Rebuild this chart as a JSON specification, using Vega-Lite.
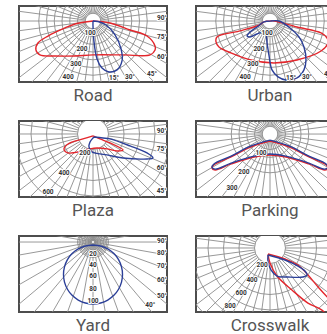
{
"$schema": "https://vega.github.io/schema/vega-lite/v6.json",
"padding": {"left": 18, "top": 5, "right": 0, "bottom": 0},
"config": {
  "view": {"stroke": "#4d4d4d", "strokeWidth": 2},
  "title": {"orient": "bottom", "fontSize": 17, "font": "Roboto", "fontWeight": "normal", "color": "#555555", "offset": 6}
},
"columns": 2,
"spacing": {"row": 15, "column": 27},
"datasets": {
  "rays75": [
    {"x":0,"y":2000,"x2":0,"y2":-2000},{"x":-261,"y":1983,"x2":261,"y2":-1983},{"x":-518,"y":1932,"x2":518,"y2":-1932},{"x":-765,"y":1848,"x2":765,"y2":-1848},
    {"x":-1000,"y":1732,"x2":1000,"y2":-1732},{"x":-1218,"y":1587,"x2":1218,"y2":-1587},{"x":-1414,"y":1414,"x2":1414,"y2":-1414},{"x":-1587,"y":1218,"x2":1587,"y2":-1218},
    {"x":-1732,"y":1000,"x2":1732,"y2":-1000},{"x":-1848,"y":765,"x2":1848,"y2":-765},{"x":-1932,"y":518,"x2":1932,"y2":-518},{"x":-1983,"y":261,"x2":1983,"y2":-261},
    {"x":-2000,"y":0,"x2":2000,"y2":0},{"x":-1983,"y":-261,"x2":1983,"y2":261},{"x":-1932,"y":-518,"x2":1932,"y2":518},{"x":-1848,"y":-765,"x2":1848,"y2":765},
    {"x":-1732,"y":-1000,"x2":1732,"y2":1000},{"x":-1587,"y":-1218,"x2":1587,"y2":1218},{"x":-1414,"y":-1414,"x2":1414,"y2":1414},{"x":-1218,"y":-1587,"x2":1218,"y2":1587},
    {"x":-1000,"y":-1732,"x2":1000,"y2":1732},{"x":-765,"y":-1848,"x2":765,"y2":1848},{"x":-518,"y":-1932,"x2":518,"y2":1932},{"x":-261,"y":-1983,"x2":261,"y2":1983}
  ],
  "rays10": [
    {"x":0,"y":2000,"x2":0,"y2":-2000},{"x":-347,"y":1970,"x2":347,"y2":-1970},{"x":-684,"y":1879,"x2":684,"y2":-1879},{"x":-1000,"y":1732,"x2":1000,"y2":-1732},
    {"x":-1286,"y":1532,"x2":1286,"y2":-1532},{"x":-1532,"y":1286,"x2":1532,"y2":-1286},{"x":-1732,"y":1000,"x2":1732,"y2":-1000},{"x":-1879,"y":684,"x2":1879,"y2":-684},
    {"x":-1970,"y":347,"x2":1970,"y2":-347},{"x":-2000,"y":0,"x2":2000,"y2":0},{"x":-1970,"y":-347,"x2":1970,"y2":347},{"x":-1879,"y":-684,"x2":1879,"y2":684},
    {"x":-1732,"y":-1000,"x2":1732,"y2":1000},{"x":-1532,"y":-1286,"x2":1532,"y2":1286},{"x":-1286,"y":-1532,"x2":1286,"y2":1532},{"x":-1000,"y":-1732,"x2":1000,"y2":1732},
    {"x":-684,"y":-1879,"x2":684,"y2":1879},{"x":-347,"y":-1970,"x2":347,"y2":1970}
  ],
  "rings_road": [{"x":0,"y":0,"r":200},{"x":0,"y":0,"r":300},{"x":0,"y":0,"r":400},{"x":0,"y":0,"r":500},{"x":0,"y":0,"r":600},{"x":0,"y":0,"r":700}],
  "rings_plaza": [{"x":0,"y":0,"r":400},{"x":0,"y":0,"r":600},{"x":0,"y":0,"r":800},{"x":0,"y":0,"r":1000}],
  "rings_parking": [{"x":0,"y":0,"r":200},{"x":0,"y":0,"r":300},{"x":0,"y":0,"r":400},{"x":0,"y":0,"r":500}],
  "rings_yard": [{"x":0,"y":0,"r":40},{"x":0,"y":0,"r":60},{"x":0,"y":0,"r":80},{"x":0,"y":0,"r":100},{"x":0,"y":0,"r":120},{"x":0,"y":0,"r":140},{"x":0,"y":0,"r":160},{"x":0,"y":0,"r":180},{"x":0,"y":0,"r":200}],
  "rings_cross": [{"x":0,"y":0,"r":400},{"x":0,"y":0,"r":600},{"x":0,"y":0,"r":800},{"x":0,"y":0,"r":1000},{"x":0,"y":0,"r":1200}],
  "lab_road": [{"t":"100","x":-19,"y":-77},{"t":"200","x":-71,"y":-181},{"t":"300","x":-110,"y":-277},{"t":"400","x":-161,"y":-361},
    {"t":"15°","x":135,"y":-368},{"t":"30°","x":239,"y":-361},{"t":"45°","x":381,"y":-342},{"t":"60°","x":445,"y":-232},{"t":"75°","x":445,"y":-103},{"t":"90°","x":445,"y":19}],
  "lab_urban": [{"t":"100","x":-19,"y":-77},{"t":"200","x":-71,"y":-181},{"t":"300","x":-110,"y":-277},{"t":"400","x":-161,"y":-361},
    {"t":"15°","x":135,"y":-368},{"t":"30°","x":239,"y":-361},{"t":"45°","x":381,"y":-342}],
  "lab_plaza": [{"t":"200","x":-62,"y":-146},{"t":"400","x":-223,"y":-300},{"t":"600","x":-346,"y":-446},
    {"t":"90°","x":528,"y":23},{"t":"75°","x":528,"y":-115},{"t":"60°","x":528,"y":-262},{"t":"45°","x":528,"y":-438}],
  "lab_parking": [{"t":"100","x":-40,"y":-84},{"t":"200","x":-116,"y":-169},{"t":"300","x":-169,"y":-240},{"t":"45°","x":276,"y":-253}],
  "lab_yard": [{"t":"20","x":0,"y":-20},{"t":"40","x":0,"y":-39},{"t":"60","x":0,"y":-58},{"t":"80","x":0,"y":-80},{"t":"100","x":0,"y":-100},
    {"t":"90°","x":117,"y":2},{"t":"80°","x":117,"y":-19},{"t":"70°","x":117,"y":-41},{"t":"60°","x":117,"y":-64},{"t":"50°","x":117,"y":-92},{"t":"40°","x":97,"y":-107}],
  "lab_cross": [{"t":"200","x":-91,"y":-194},{"t":"400","x":-206,"y":-366},{"t":"600","x":-331,"y":-514},{"t":"800","x":-457,"y":-663}]
},
"concat": [
{
  "width": 148, "height": 76, "title": {"text": "Road"},
  "encoding": {
    "x": {"field": "x", "type": "quantitative", "axis": null, "scale": {"domain": [-477, 477], "nice": false, "zero": false}},
    "y": {"field": "y", "type": "quantitative", "axis": null, "scale": {"domain": [-394, 97], "nice": false, "zero": false}}
  },
  "layer": [
    {"data": {"name": "rays75"}, "mark": {"type": "rule", "clip": true, "color": "#8c8c8c", "strokeWidth": 0.9}, "encoding": {"x2": {"field": "x2"}, "y2": {"field": "y2"}}},
    {"data": {"values": [{"x":0,"y":0,"r":100}]}, "mark": {"type": "point", "shape": "circle", "filled": true, "fill": "white", "stroke": "#8c8c8c", "strokeWidth": 0.9, "opacity": 1, "clip": true},
     "encoding": {"size": {"field": "r", "type": "quantitative", "legend": null, "scale": {"type": "pow", "exponent": 2, "domain": [0, 1000], "range": [0, 96100]}}}},
    {"data": {"name": "rings_road"}, "mark": {"type": "point", "shape": "circle", "filled": false, "stroke": "#8c8c8c", "strokeWidth": 0.9, "opacity": 1, "clip": true},
     "encoding": {"size": {"field": "r", "type": "quantitative", "legend": null, "scale": {"type": "pow", "exponent": 2, "domain": [0, 1000], "range": [0, 96100]}}}},
    {"data": {"values": [
      {"s":"red","i":0,"x":0,"y":0},{"s":"red","i":1,"x":-116,"y":-19},{"s":"red","i":2,"x":-181,"y":-45},{"s":"red","i":3,"x":-290,"y":-97},{"s":"red","i":4,"x":-355,"y":-142},{"s":"red","i":5,"x":-368,"y":-187},{"s":"red","i":6,"x":-342,"y":-219},{"s":"red","i":7,"x":-245,"y":-226},{"s":"red","i":8,"x":-116,"y":-226},{"s":"red","i":9,"x":0,"y":-219},{"s":"red","i":10,"x":194,"y":-219},{"s":"red","i":11,"x":368,"y":-219},{"s":"red","i":12,"x":400,"y":-187},{"s":"red","i":13,"x":400,"y":-161},{"s":"red","i":14,"x":348,"y":-97},{"s":"red","i":15,"x":239,"y":-58},{"s":"red","i":16,"x":110,"y":-13},{"s":"red","i":17,"x":0,"y":0},
      {"s":"blue","i":0,"x":0,"y":0},{"s":"blue","i":1,"x":0,"y":-32},{"s":"blue","i":2,"x":6,"y":-129},{"s":"blue","i":3,"x":26,"y":-245},{"s":"blue","i":4,"x":58,"y":-303},{"s":"blue","i":5,"x":103,"y":-329},{"s":"blue","i":6,"x":155,"y":-316},{"s":"blue","i":7,"x":187,"y":-258},{"s":"blue","i":8,"x":181,"y":-181},{"s":"blue","i":9,"x":142,"y":-90},{"s":"blue","i":10,"x":84,"y":-26},{"s":"blue","i":11,"x":32,"y":-3},{"s":"blue","i":12,"x":0,"y":0}
    ]}, "mark": {"type": "line", "clip": true, "strokeWidth": 1.4, "interpolate": "catmull-rom"},
     "encoding": {"color": {"field": "s", "type": "nominal", "legend": null, "scale": {"domain": ["red", "blue"], "range": ["#e3262c", "#2b3f98"]}}, "order": {"field": "i", "type": "quantitative"}}},
    {"data": {"name": "lab_road"}, "mark": {"type": "text", "clip": true, "font": "Roboto", "fontSize": 6.5, "fontWeight": "bold", "fill": "white", "stroke": "white", "strokeWidth": 2}, "encoding": {"text": {"field": "t"}}},
    {"data": {"name": "lab_road"}, "mark": {"type": "text", "clip": true, "font": "Roboto", "fontSize": 6.5, "fontWeight": "bold", "fill": "#333333"}, "encoding": {"text": {"field": "t"}}}
  ]
},
{
  "width": 148, "height": 76, "title": {"text": "Urban"},
  "encoding": {
    "x": {"field": "x", "type": "quantitative", "axis": null, "scale": {"domain": [-477, 477], "nice": false, "zero": false}},
    "y": {"field": "y", "type": "quantitative", "axis": null, "scale": {"domain": [-394, 97], "nice": false, "zero": false}}
  },
  "layer": [
    {"data": {"name": "rays75"}, "mark": {"type": "rule", "clip": true, "color": "#8c8c8c", "strokeWidth": 0.9}, "encoding": {"x2": {"field": "x2"}, "y2": {"field": "y2"}}},
    {"data": {"values": [{"x":0,"y":0,"r":100}]}, "mark": {"type": "point", "shape": "circle", "filled": true, "fill": "white", "stroke": "#8c8c8c", "strokeWidth": 0.9, "opacity": 1, "clip": true},
     "encoding": {"size": {"field": "r", "type": "quantitative", "legend": null, "scale": {"type": "pow", "exponent": 2, "domain": [0, 1000], "range": [0, 96100]}}}},
    {"data": {"name": "rings_road"}, "mark": {"type": "point", "shape": "circle", "filled": false, "stroke": "#8c8c8c", "strokeWidth": 0.9, "opacity": 1, "clip": true},
     "encoding": {"size": {"field": "r", "type": "quantitative", "legend": null, "scale": {"type": "pow", "exponent": 2, "domain": [0, 1000], "range": [0, 96100]}}}},
    {"data": {"values": [
      {"s":"red","i":0,"x":0,"y":0},{"s":"red","i":1,"x":-39,"y":-6},{"s":"red","i":2,"x":-71,"y":-26},{"s":"red","i":3,"x":-200,"y":-65},{"s":"red","i":4,"x":-342,"y":-103},{"s":"red","i":5,"x":-348,"y":-135},{"s":"red","i":6,"x":-329,"y":-168},{"s":"red","i":7,"x":-252,"y":-206},{"s":"red","i":8,"x":-123,"y":-252},{"s":"red","i":9,"x":26,"y":-271},{"s":"red","i":10,"x":174,"y":-252},{"s":"red","i":11,"x":329,"y":-194},{"s":"red","i":12,"x":374,"y":-142},{"s":"red","i":13,"x":368,"y":-110},{"s":"red","i":14,"x":329,"y":-77},{"s":"red","i":15,"x":174,"y":-39},{"s":"red","i":16,"x":26,"y":0},{"s":"red","i":17,"x":0,"y":0},
      {"s":"blue","i":0,"x":6,"y":0},{"s":"blue","i":1,"x":-39,"y":-6},{"s":"blue","i":2,"x":-84,"y":-39},{"s":"blue","i":3,"x":-135,"y":-77},{"s":"blue","i":4,"x":-148,"y":-97},{"s":"blue","i":5,"x":-129,"y":-103},{"s":"blue","i":6,"x":-84,"y":-84},{"s":"blue","i":7,"x":-32,"y":-71},{"s":"blue","i":8,"x":-19,"y":-142},{"s":"blue","i":9,"x":-6,"y":-226},{"s":"blue","i":10,"x":13,"y":-316},{"s":"blue","i":11,"x":52,"y":-361},{"s":"blue","i":12,"x":103,"y":-381},{"s":"blue","i":13,"x":174,"y":-368},{"s":"blue","i":14,"x":219,"y":-316},{"s":"blue","i":15,"x":232,"y":-252},{"s":"blue","i":16,"x":219,"y":-168},{"s":"blue","i":17,"x":187,"y":-103},{"s":"blue","i":18,"x":129,"y":-45},{"s":"blue","i":19,"x":58,"y":0},{"s":"blue","i":20,"x":6,"y":0}
    ]}, "mark": {"type": "line", "clip": true, "strokeWidth": 1.4, "interpolate": "catmull-rom"},
     "encoding": {"color": {"field": "s", "type": "nominal", "legend": null, "scale": {"domain": ["red", "blue"], "range": ["#e3262c", "#2b3f98"]}}, "order": {"field": "i", "type": "quantitative"}}},
    {"data": {"name": "lab_urban"}, "mark": {"type": "text", "clip": true, "font": "Roboto", "fontSize": 6.5, "fontWeight": "bold", "fill": "white", "stroke": "white", "strokeWidth": 2}, "encoding": {"text": {"field": "t"}}},
    {"data": {"name": "lab_urban"}, "mark": {"type": "text", "clip": true, "font": "Roboto", "fontSize": 6.5, "fontWeight": "bold", "fill": "#333333"}, "encoding": {"text": {"field": "t"}}}
  ]
},
{
  "width": 148, "height": 76, "title": {"text": "Plaza"},
  "encoding": {
    "x": {"field": "x", "type": "quantitative", "axis": null, "scale": {"domain": [-569, 569], "nice": false, "zero": false}},
    "y": {"field": "y", "type": "quantitative", "axis": null, "scale": {"domain": [-485, 100], "nice": false, "zero": false}}
  },
  "layer": [
    {"data": {"name": "rays75"}, "mark": {"type": "rule", "clip": true, "color": "#8c8c8c", "strokeWidth": 0.9}, "encoding": {"x2": {"field": "x2"}, "y2": {"field": "y2"}}},
    {"data": {"values": [{"x":0,"y":0,"r":200}]}, "mark": {"type": "point", "shape": "circle", "filled": true, "fill": "white", "stroke": "#8c8c8c", "strokeWidth": 0.9, "opacity": 1, "clip": true},
     "encoding": {"size": {"field": "r", "type": "quantitative", "legend": null, "scale": {"type": "pow", "exponent": 2, "domain": [0, 1000], "range": [0, 67600]}}}},
    {"data": {"name": "rings_plaza"}, "mark": {"type": "point", "shape": "circle", "filled": false, "stroke": "#8c8c8c", "strokeWidth": 0.9, "opacity": 1, "clip": true},
     "encoding": {"size": {"field": "r", "type": "quantitative", "legend": null, "scale": {"type": "pow", "exponent": 2, "domain": [0, 1000], "range": [0, 67600]}}}},
    {"data": {"values": [
      {"s":"red","i":0,"x":0,"y":-15},{"s":"red","i":1,"x":-77,"y":-38},{"s":"red","i":2,"x":-192,"y":-77},{"s":"red","i":3,"x":-223,"y":-115},{"s":"red","i":4,"x":-192,"y":-146},{"s":"red","i":5,"x":-85,"y":-131},{"s":"red","i":6,"x":-23,"y":-115},{"s":"red","i":7,"x":31,"y":-108},{"s":"red","i":8,"x":108,"y":-115},{"s":"red","i":9,"x":185,"y":-131},{"s":"red","i":10,"x":231,"y":-123},{"s":"red","i":11,"x":131,"y":-69},{"s":"red","i":12,"x":54,"y":-38},{"s":"red","i":13,"x":0,"y":-15},
      {"s":"blue","i":0,"x":8,"y":-23},{"s":"blue","i":1,"x":77,"y":-31},{"s":"blue","i":2,"x":131,"y":-38},{"s":"blue","i":3,"x":285,"y":-92},{"s":"blue","i":4,"x":415,"y":-146},{"s":"blue","i":5,"x":461,"y":-185},{"s":"blue","i":6,"x":415,"y":-192},{"s":"blue","i":7,"x":231,"y":-185},{"s":"blue","i":8,"x":108,"y":-161},{"s":"blue","i":9,"x":-8,"y":-138},{"s":"blue","i":10,"x":-31,"y":-100},{"s":"blue","i":11,"x":-23,"y":-62},{"s":"blue","i":12,"x":0,"y":-31},{"s":"blue","i":13,"x":8,"y":-23}
    ]}, "mark": {"type": "line", "clip": true, "strokeWidth": 1.4, "interpolate": "catmull-rom"},
     "encoding": {"color": {"field": "s", "type": "nominal", "legend": null, "scale": {"domain": ["red", "blue"], "range": ["#e3262c", "#2b3f98"]}}, "order": {"field": "i", "type": "quantitative"}}},
    {"data": {"name": "lab_plaza"}, "mark": {"type": "text", "clip": true, "font": "Roboto", "fontSize": 6.5, "fontWeight": "bold", "fill": "white", "stroke": "white", "strokeWidth": 2}, "encoding": {"text": {"field": "t"}}},
    {"data": {"name": "lab_plaza"}, "mark": {"type": "text", "clip": true, "font": "Roboto", "fontSize": 6.5, "fontWeight": "bold", "fill": "#333333"}, "encoding": {"text": {"field": "t"}}}
  ]
},
{
  "width": 148, "height": 76, "title": {"text": "Parking"},
  "encoding": {
    "x": {"field": "x", "type": "quantitative", "axis": null, "scale": {"domain": [-329, 329], "nice": false, "zero": false}},
    "y": {"field": "y", "type": "quantitative", "axis": null, "scale": {"domain": [-280, 58], "nice": false, "zero": false}}
  },
  "layer": [
    {"data": {"name": "rays75"}, "mark": {"type": "rule", "clip": true, "color": "#8c8c8c", "strokeWidth": 0.9}, "encoding": {"x2": {"field": "x2"}, "y2": {"field": "y2"}}},
    {"data": {"values": [{"x":0,"y":0,"r":100}]}, "mark": {"type": "point", "shape": "circle", "filled": true, "fill": "white", "stroke": "#8c8c8c", "strokeWidth": 0.9, "opacity": 1, "clip": true},
     "encoding": {"size": {"field": "r", "type": "quantitative", "legend": null, "scale": {"type": "pow", "exponent": 2, "domain": [0, 500], "range": [0, 50625]}}}},
    {"data": {"name": "rings_parking"}, "mark": {"type": "point", "shape": "circle", "filled": false, "stroke": "#8c8c8c", "strokeWidth": 0.9, "opacity": 1, "clip": true},
     "encoding": {"size": {"field": "r", "type": "quantitative", "legend": null, "scale": {"type": "pow", "exponent": 2, "domain": [0, 500], "range": [0, 50625]}}}},
    {"data": {"values": [
      {"s":"red","i":0,"x":0,"y":-31},{"s":"red","i":1,"x":-84,"y":-57},{"s":"red","i":2,"x":-173,"y":-102},{"s":"red","i":3,"x":-249,"y":-137},{"s":"red","i":4,"x":-258,"y":-151},{"s":"red","i":5,"x":-244,"y":-160},{"s":"red","i":6,"x":-173,"y":-133},{"s":"red","i":7,"x":-71,"y":-102},{"s":"red","i":8,"x":0,"y":-93},{"s":"red","i":9,"x":71,"y":-102},{"s":"red","i":10,"x":173,"y":-133},{"s":"red","i":11,"x":244,"y":-160},{"s":"red","i":12,"x":258,"y":-151},{"s":"red","i":13,"x":249,"y":-137},{"s":"red","i":14,"x":173,"y":-102},{"s":"red","i":15,"x":84,"y":-57},{"s":"red","i":16,"x":0,"y":-31},
      {"s":"blue","i":0,"x":0,"y":-27},{"s":"blue","i":1,"x":-84,"y":-53},{"s":"blue","i":2,"x":-173,"y":-98},{"s":"blue","i":3,"x":-249,"y":-133},{"s":"blue","i":4,"x":-258,"y":-147},{"s":"blue","i":5,"x":-244,"y":-156},{"s":"blue","i":6,"x":-173,"y":-129},{"s":"blue","i":7,"x":-71,"y":-98},{"s":"blue","i":8,"x":0,"y":-89},{"s":"blue","i":9,"x":71,"y":-98},{"s":"blue","i":10,"x":173,"y":-129},{"s":"blue","i":11,"x":244,"y":-156},{"s":"blue","i":12,"x":258,"y":-147},{"s":"blue","i":13,"x":249,"y":-133},{"s":"blue","i":14,"x":173,"y":-98},{"s":"blue","i":15,"x":84,"y":-53},{"s":"blue","i":16,"x":0,"y":-27}
    ]}, "mark": {"type": "line", "clip": true, "strokeWidth": 1.4, "interpolate": "catmull-rom"},
     "encoding": {"color": {"field": "s", "type": "nominal", "legend": null, "scale": {"domain": ["red", "blue"], "range": ["#e3262c", "#2b3f98"]}}, "order": {"field": "i", "type": "quantitative"}}},
    {"data": {"name": "lab_parking"}, "mark": {"type": "text", "clip": true, "font": "Roboto", "fontSize": 6.5, "fontWeight": "bold", "fill": "white", "stroke": "white", "strokeWidth": 2}, "encoding": {"text": {"field": "t"}}},
    {"data": {"name": "lab_parking"}, "mark": {"type": "text", "clip": true, "font": "Roboto", "fontSize": 6.5, "fontWeight": "bold", "fill": "#333333"}, "encoding": {"text": {"field": "t"}}}
  ]
},
{
  "width": 148, "height": 76, "title": {"text": "Yard"},
  "encoding": {
    "x": {"field": "x", "type": "quantitative", "axis": null, "scale": {"domain": [-125.4, 125.4], "nice": false, "zero": false}},
    "y": {"field": "y", "type": "quantitative", "axis": null, "scale": {"domain": [-118.6, 10.2], "nice": false, "zero": false}}
  },
  "layer": [
    {"data": {"name": "rays10"}, "mark": {"type": "rule", "clip": true, "color": "#8c8c8c", "strokeWidth": 0.9}, "encoding": {"x2": {"field": "x2"}, "y2": {"field": "y2"}}},
    {"data": {"values": [{"x":0,"y":0,"r":20}]}, "mark": {"type": "point", "shape": "circle", "filled": true, "fill": "white", "stroke": "#8c8c8c", "strokeWidth": 0.9, "opacity": 1, "clip": true},
     "encoding": {"size": {"field": "r", "type": "quantitative", "legend": null, "scale": {"type": "pow", "exponent": 2, "domain": [0, 200], "range": [0, 55696]}}}},
    {"data": {"name": "rings_yard"}, "mark": {"type": "point", "shape": "circle", "filled": false, "stroke": "#8c8c8c", "strokeWidth": 0.9, "opacity": 1, "clip": true},
     "encoding": {"size": {"field": "r", "type": "quantitative", "legend": null, "scale": {"type": "pow", "exponent": 2, "domain": [0, 200], "range": [0, 55696]}}}},
    {"data": {"values": [
      {"s":"blue","i":0,"x":0,"y":-5},{"s":"blue","i":1,"x":12.9,"y":-6.7},{"s":"blue","i":2,"x":25,"y":-11.7},{"s":"blue","i":3,"x":35.4,"y":-19.6},{"s":"blue","i":4,"x":43.3,"y":-30},{"s":"blue","i":5,"x":48.3,"y":-42.1},{"s":"blue","i":6,"x":50,"y":-55},{"s":"blue","i":7,"x":48.3,"y":-67.9},{"s":"blue","i":8,"x":43.3,"y":-80},{"s":"blue","i":9,"x":35.4,"y":-90.4},{"s":"blue","i":10,"x":25,"y":-98.3},{"s":"blue","i":11,"x":12.9,"y":-103.3},{"s":"blue","i":12,"x":0,"y":-105},
      {"s":"blue","i":13,"x":-12.9,"y":-103.3},{"s":"blue","i":14,"x":-25,"y":-98.3},{"s":"blue","i":15,"x":-35.4,"y":-90.4},{"s":"blue","i":16,"x":-43.3,"y":-80},{"s":"blue","i":17,"x":-48.3,"y":-67.9},{"s":"blue","i":18,"x":-50,"y":-55},{"s":"blue","i":19,"x":-48.3,"y":-42.1},{"s":"blue","i":20,"x":-43.3,"y":-30},{"s":"blue","i":21,"x":-35.4,"y":-19.6},{"s":"blue","i":22,"x":-25,"y":-11.7},{"s":"blue","i":23,"x":-12.9,"y":-6.7},{"s":"blue","i":24,"x":0,"y":-5}
    ]}, "mark": {"type": "line", "clip": true, "strokeWidth": 1.4, "interpolate": "catmull-rom"},
     "encoding": {"color": {"field": "s", "type": "nominal", "legend": null, "scale": {"domain": ["red", "blue"], "range": ["#e3262c", "#2b3f98"]}}, "order": {"field": "i", "type": "quantitative"}}},
    {"data": {"name": "lab_yard"}, "mark": {"type": "text", "clip": true, "font": "Roboto", "fontSize": 6.5, "fontWeight": "bold", "fill": "white", "stroke": "white", "strokeWidth": 2}, "encoding": {"text": {"field": "t"}}},
    {"data": {"name": "lab_yard"}, "mark": {"type": "text", "clip": true, "font": "Roboto", "fontSize": 6.5, "fontWeight": "bold", "fill": "#333333"}, "encoding": {"text": {"field": "t"}}}
  ]
},
{
  "width": 148, "height": 76, "title": {"text": "Crosswalk"},
  "encoding": {
    "x": {"field": "x", "type": "quantitative", "axis": null, "scale": {"domain": [-846, 846], "nice": false, "zero": false}},
    "y": {"field": "y", "type": "quantitative", "axis": null, "scale": {"domain": [-731, 137], "nice": false, "zero": false}}
  },
  "layer": [
    {"data": {"name": "rays75"}, "mark": {"type": "rule", "clip": true, "color": "#8c8c8c", "strokeWidth": 0.9}, "encoding": {"x2": {"field": "x2"}, "y2": {"field": "y2"}}},
    {"data": {"values": [{"x":0,"y":0,"r":200}]}, "mark": {"type": "point", "shape": "circle", "filled": true, "fill": "white", "stroke": "#8c8c8c", "strokeWidth": 0.9, "opacity": 1, "clip": true},
     "encoding": {"size": {"field": "r", "type": "quantitative", "legend": null, "scale": {"type": "pow", "exponent": 2, "domain": [0, 2000], "range": [0, 122500]}}}},
    {"data": {"name": "rings_cross"}, "mark": {"type": "point", "shape": "circle", "filled": false, "stroke": "#8c8c8c", "strokeWidth": 0.9, "opacity": 1, "clip": true},
     "encoding": {"size": {"field": "r", "type": "quantitative", "legend": null, "scale": {"type": "pow", "exponent": 2, "domain": [0, 2000], "range": [0, 122500]}}}},
    {"data": {"values": [
      {"s":"red","i":0,"x":-23,"y":-69},{"s":"red","i":1,"x":171,"y":-126},{"s":"red","i":2,"x":320,"y":-194},{"s":"red","i":3,"x":434,"y":-309},{"s":"red","i":4,"x":560,"y":-457},{"s":"red","i":5,"x":686,"y":-594},{"s":"red","i":6,"x":777,"y":-686},{"s":"red","i":7,"x":892,"y":-834},{"s":"red","i":8,"x":720,"y":-834},{"s":"red","i":9,"x":594,"y":-709},{"s":"red","i":10,"x":434,"y":-629},{"s":"red","i":11,"x":251,"y":-480},{"s":"red","i":12,"x":80,"y":-320},{"s":"red","i":13,"x":0,"y":-171},{"s":"red","i":14,"x":-23,"y":-69},
      {"s":"blue","i":0,"x":-23,"y":-80},{"s":"blue","i":1,"x":171,"y":-137},{"s":"blue","i":2,"x":320,"y":-206},{"s":"blue","i":3,"x":400,"y":-263},{"s":"blue","i":4,"x":423,"y":-309},{"s":"blue","i":5,"x":377,"y":-331},{"s":"blue","i":6,"x":206,"y":-331},{"s":"blue","i":7,"x":80,"y":-320},{"s":"blue","i":8,"x":11,"y":-251},{"s":"blue","i":9,"x":-23,"y":-149},{"s":"blue","i":10,"x":-23,"y":-80}
    ]}, "mark": {"type": "line", "clip": true, "strokeWidth": 1.4, "interpolate": "catmull-rom"},
     "encoding": {"color": {"field": "s", "type": "nominal", "legend": null, "scale": {"domain": ["red", "blue"], "range": ["#e3262c", "#2b3f98"]}}, "order": {"field": "i", "type": "quantitative"}}},
    {"data": {"name": "lab_cross"}, "mark": {"type": "text", "clip": true, "font": "Roboto", "fontSize": 6.5, "fontWeight": "bold", "fill": "white", "stroke": "white", "strokeWidth": 2}, "encoding": {"text": {"field": "t"}}},
    {"data": {"name": "lab_cross"}, "mark": {"type": "text", "clip": true, "font": "Roboto", "fontSize": 6.5, "fontWeight": "bold", "fill": "#333333"}, "encoding": {"text": {"field": "t"}}}
  ]
}
]
}
